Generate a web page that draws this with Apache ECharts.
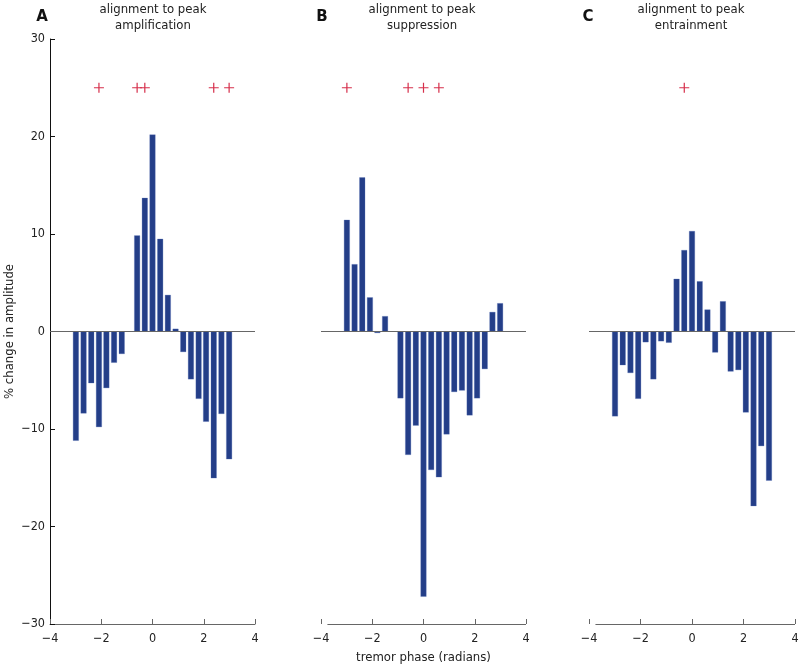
<!DOCTYPE html>
<html>
<head>
<meta charset="utf-8">
<script src="https://cdn.jsdelivr.net/npm/echarts@6/dist/echarts.min.js"></script>
<style>
html,body{margin:0;padding:0;background:#fff;}
#chart{width:800px;height:665px;}
</style>
</head>
<body>
<div id="chart"></div>
<script>
// bin centres (radians)
var phase = [-2.99,-2.69,-2.39,-2.09,-1.80,-1.50,-1.20,-0.90,-0.60,-0.30,0,0.30,0.60,0.90,1.20,1.50,1.80,2.09,2.39,2.69,2.99];
var ampA = [-11.2,-8.4,-5.3,-9.8,-5.8,-3.2,-2.3,0,9.85,13.7,20.2,9.5,3.75,0.28,-2.1,-4.9,-6.9,-9.25,-15.05,-8.45,-13.1];
var ampB = [11.45,6.9,15.8,3.5,-0.15,1.57,0,-6.85,-12.65,-9.65,-27.2,-14.2,-14.95,-10.55,-6.2,-6.05,-8.6,-6.85,-3.85,2.0,2.9];
var ampC = [-8.7,-3.45,-4.25,-6.9,-1.1,-4.9,-1.0,-1.15,5.4,8.35,10.3,5.15,2.25,-2.15,3.1,-4.1,-3.95,-8.3,-17.9,-11.75,-15.3];
var sigA = [-2.09,-0.60,-0.30,2.39,2.99];
var sigB = [-2.99,-0.60,0,0.60];
var sigC = [-0.30];
var sigLevel = 25;
var letters = ['A','B','C'];
var titles = ['alignment to peak\namplification','alignment to peak\nsuppression','alignment to peak\nentrainment'];

var FONT = 'DejaVu Sans Condensed, DejaVu Sans, sans-serif';
var BAR = '#243e88';
var PLUS = '#d62f4b';
var AXIS_GRAY = '#666666';

var grids = [
  {left:50, top:39, width:205, height:585, outerBoundsMode:'none', containLabel:false},
  {left:321, top:39, width:205, height:585, outerBoundsMode:'none', containLabel:false},
  {left:589, top:39, width:206, height:585, outerBoundsMode:'none', containLabel:false}
];
var centers = [153, 422, 691];
var letterX = [42, 322, 588];

function pairs(xs, ys){ return xs.map(function(x,i){ return [x, ys[i]]; }); }
function sigPairs(xs){ return xs.map(function(x){ return [x, sigLevel]; }); }
function fmt(v){ return String(v).replace('-', '\u2212'); }

var xAxes = [], yAxes = [], series = [], titleArr = [];
var amps = [ampA, ampB, ampC];
var sigs = [sigA, sigB, sigC];

for (var i=0;i<3;i++){
  xAxes.push({
    type:'value', gridIndex:i, min:-4, max:4, interval:2,
    axisLine:{show: i===0, onZero:false, lineStyle:{color:AXIS_GRAY, width:1}},
    axisTick:{show:true, inside:true, length:5, lineStyle:{color:AXIS_GRAY}},
    axisLabel:{color:'#222', fontFamily:FONT, fontSize:12.5, margin:8, formatter:fmt},
    splitLine:{show:false},
    name: i===1 ? 'tremor phase (radians)' : '',
    nameLocation:'middle', nameGap:27,
    nameTextStyle:{color:'#222', fontFamily:FONT, fontSize:13}
  });
  yAxes.push({
    type:'value', gridIndex:i, min:-30, max:30, interval:10,
    show: i===0,
    axisLine:{show:true, onZero:false, lineStyle:{color:'#111', width:1}},
    axisTick:{show:true, inside:true, length:5, lineStyle:{color:'#111'}},
    axisLabel:{color:'#222', fontFamily:FONT, fontSize:12.5, margin:5, formatter:fmt},
    splitLine:{show:false},
    name:'% change in amplitude', nameLocation:'middle', nameGap:34, nameRotate:90,
    nameTextStyle:{color:'#222', fontFamily:FONT, fontSize:13}
  });
  var mlData = [{yAxis:0}];
  if (i>0){
    mlData.push([{coord:[-3.75,-30]},{coord:[4,-30]}]);
  }
  series.push({
    type:'bar', xAxisIndex:i, yAxisIndex:i,
    data: pairs(phase, amps[i]),
    barWidth:5.8,
    itemStyle:{color:BAR, borderColor:'#5a72b8', borderWidth:0.3},
    silent:true,
    markLine:{
      silent:true, symbol:['none','none'], label:{show:false},
      lineStyle:{color:AXIS_GRAY, width:1, type:'solid'},
      data: mlData, animation:false
    },
    z:2
  });
  series.push({
    type:'scatter', xAxisIndex:i, yAxisIndex:i,
    data: sigPairs(sigs[i]),
    symbol:'path://M4.4,0h1.2v10h-1.2z M0,4.4h10v1.2h-10z',
    symbolSize:10,
    itemStyle:{color:PLUS, opacity:1},
    silent:true, z:3
  });
  titleArr.push({
    text: titles[i], left: centers[i], top: 2, textAlign:'center', padding:0,
    textStyle:{fontFamily:FONT, fontSize:13, fontWeight:'normal', color:'#222', lineHeight:16}
  });
  titleArr.push({
    text: letters[i], left: letterX[i], top: 10, textAlign:'center', padding:0,
    textStyle:{fontFamily:'DejaVu Sans, sans-serif', fontSize:15, fontWeight:'bold', color:'#111'}
  });
}

var chart = echarts.init(document.getElementById('chart'), null, {renderer:'canvas'});
chart.setOption({
  animation:false,
  backgroundColor:'#ffffff',
  title: titleArr,
  grid: grids,
  xAxis: xAxes,
  yAxis: yAxes,
  series: series
});
</script>
</body>
</html>
